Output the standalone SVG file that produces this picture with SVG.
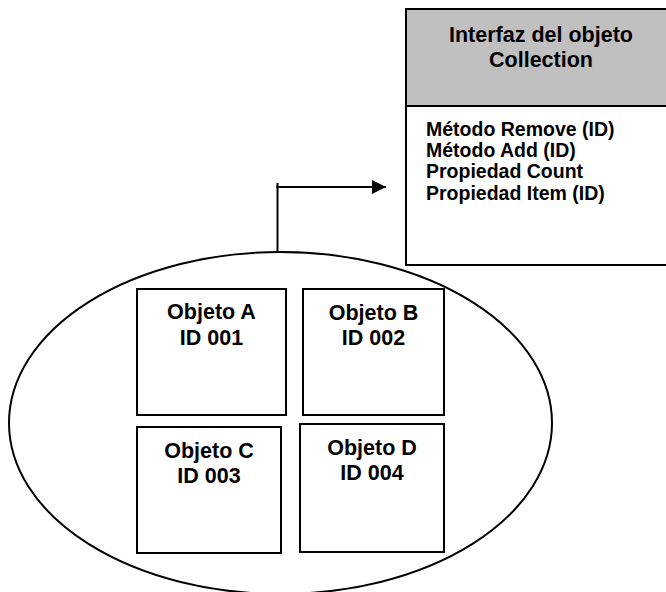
<svg xmlns="http://www.w3.org/2000/svg" width="666" height="592" viewBox="0 0 666 592">
<defs>
<style>
.t{font-family:"Liberation Sans",Arial,sans-serif;font-weight:bold;fill:#000}
.big{font-size:21.5px;text-anchor:middle}
.lst{font-size:19.5px}
.box{fill:#fff;stroke:#000;stroke-width:2}
.ln{fill:none;stroke:#000;stroke-width:2}
</style>
<marker id="ah" markerWidth="14" markerHeight="14" refX="14" refY="7" orient="auto" markerUnits="userSpaceOnUse">
<path d="M0,0 L14,7 L0,14 Z" fill="#000"/>
</marker>
</defs>
<rect width="666" height="592" fill="#fff"/>
<g id="interfaz">
<rect x="406" y="9" width="272" height="256" class="box"/>
<rect x="407" y="10" width="270" height="96" fill="#c0c0c0"/>
<line x1="406" y1="106" x2="678" y2="106" class="ln"/>
<text class="t big" x="541" y="42">Interfaz del objeto</text>
<text class="t big" x="541" y="67">Collection</text>
<text class="t lst" x="426" y="136">Método Remove (ID)</text>
<text class="t lst" x="426" y="157">Método Add (ID)</text>
<text class="t lst" x="426" y="178">Propiedad Count</text>
<text class="t lst" x="426" y="200">Propiedad Item (ID)</text>
</g>
<g id="coleccion">
<ellipse cx="280.5" cy="423" rx="271.5" ry="171" class="ln"/>
</g>
<g id="objetoA">
<rect x="137" y="289" width="149" height="126" class="box"/>
<text class="t big" x="211.5" y="319">Objeto A</text>
<text class="t big" x="211.5" y="345">ID 001</text>
</g>
<g id="objetoB">
<rect x="303" y="289" width="141" height="126" class="box"/>
<text class="t big" x="373.5" y="320">Objeto B</text>
<text class="t big" x="373.5" y="345">ID 002</text>
</g>
<g id="objetoC">
<rect x="137" y="427" width="144" height="126" class="box"/>
<text class="t big" x="209" y="458">Objeto C</text>
<text class="t big" x="209" y="483">ID 003</text>
</g>
<g id="objetoD">
<rect x="300" y="424" width="144" height="128" class="box"/>
<text class="t big" x="372" y="455">Objeto D</text>
<text class="t big" x="372" y="480">ID 004</text>
</g>
<g id="connectors">
<line x1="277.5" y1="183" x2="277.5" y2="253" class="ln"/>
<line x1="276.5" y1="187" x2="386" y2="187" class="ln" marker-end="url(#ah)"/>
</g>
</svg>
